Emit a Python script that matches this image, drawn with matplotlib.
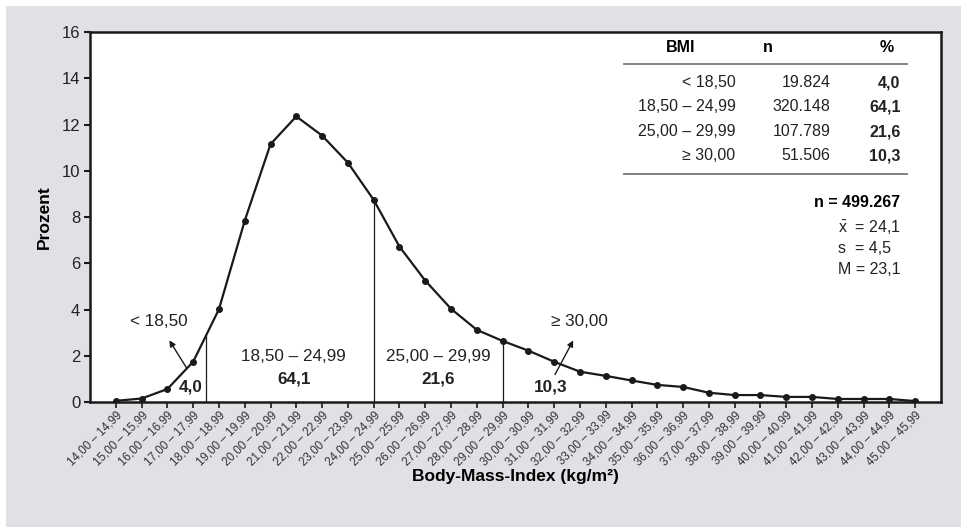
import matplotlib
matplotlib.use("Agg")
import matplotlib.pyplot as plt
from matplotlib.patches import Rectangle
import numpy as np

plt.rcParams['font.family'] = ['Liberation Sans', 'DejaVu Sans']
plt.rcParams['mathtext.fontset'] = 'custom'
plt.rcParams['mathtext.rm'] = 'Liberation Sans'
plt.rcParams['mathtext.it'] = 'Liberation Sans'

# BMI classes (1-unit bins) and share of persons in percent
bmi_low = list(range(14, 46))
categories = [f"{b},00 – {b},99" for b in bmi_low]
percent = [0.05, 0.15, 0.56, 1.74, 4.01, 7.84, 11.15, 12.35, 11.52, 10.35,
           8.74, 6.72, 5.25, 4.03, 3.12, 2.64, 2.22, 1.74, 1.31, 1.13,
           0.93, 0.74, 0.65, 0.40, 0.30, 0.30, 0.22, 0.22, 0.13, 0.13,
           0.13, 0.04]

# WHO groups
group_labels = ["< 18,50", "18,50 – 24,99", "25,00 – 29,99", "≥ 30,00"]
group_n = ["19.824", "320.148", "107.789", "51.506"]
group_pct = [4.0, 64.1, 21.6, 10.3]
cut_points = [18.5, 25.0, 30.0]

n_total = "499.267"
mean_txt, sd_txt, median_txt = "24,1", "4,5", "23,1"

bg = '#e0e1e5'
ink = '#1a1a1a'
txt = '#222222'


def fmt(v):
    return f"{v:.1f}".replace('.', ',')


fig = plt.figure(figsize=(9.61, 5.27), dpi=100, facecolor='white')
fig.patches.append(Rectangle((6 / 961, 0), 1, 1 - 6 / 527, transform=fig.transFigure,
                             facecolor=bg, edgecolor='none', zorder=-10))
ax = fig.add_axes([90 / 961, 125 / 527, 851 / 961, 370 / 527])
ax.set_facecolor('white')

x = np.arange(len(categories))
ax.plot(x, percent, color=ink, lw=1.6, marker='o', ms=4, zorder=3)

# class boundaries: a point at index i stands for BMI i+15
for c in cut_points:
    xc = c - 15
    yc = np.interp(xc, x, percent)
    ax.plot([xc, xc], [0, yc], color=ink, lw=0.9, zorder=2)

ax.set_xlim(-1, 32)
ax.set_ylim(0, 16)
ax.set_yticks(range(0, 17, 2))
ax.set_xticks(x)
ax.set_xticklabels(categories, rotation=45, ha='right', rotation_mode='anchor',
                   fontsize=8.4, color='#333333')
ax.tick_params(axis='y', labelsize=12, length=4, width=1.5, color=ink, labelcolor=txt, pad=3)
ax.tick_params(axis='x', length=4, width=1.2, color=ink, pad=1)
for s in ax.spines.values():
    s.set_linewidth(1.8)
    s.set_color(ink)

ax.set_ylabel("Prozent", fontsize=12.5, fontweight='bold', labelpad=7)
ax.set_xlabel("Body-Mass-Index (kg/m²)", fontsize=12.5, fontweight='bold', labelpad=1)

# group annotations inside the plot
fs = 12.3
ax.text(1.67, 3.46, group_labels[0], ha='center', va='center', fontsize=fs, color=txt)
ax.annotate("", xy=(2.02, 2.77), xytext=(2.79, 1.39),
            arrowprops=dict(arrowstyle='-|>', color=ink, lw=1, mutation_scale=9))
ax.text(2.9, 0.65, fmt(group_pct[0]), ha='center', va='center',
        fontsize=fs, fontweight='bold', color=txt)

ax.text(6.9, 1.95, group_labels[1], ha='center', va='center', fontsize=fs, color=txt)
ax.text(6.9, 1.0, fmt(group_pct[1]), ha='center', va='center',
        fontsize=fs, fontweight='bold', color=txt)

ax.text(12.52, 1.95, group_labels[2], ha='center', va='center', fontsize=fs, color=txt)
ax.text(12.5, 1.0, fmt(group_pct[2]), ha='center', va='center',
        fontsize=fs, fontweight='bold', color=txt)

ax.text(16.86, 0.65, fmt(group_pct[3]), ha='center', va='center',
        fontsize=fs, fontweight='bold', color=txt)
ax.annotate("", xy=(17.79, 2.77), xytext=(16.98, 1.08),
            arrowprops=dict(arrowstyle='-|>', color=ink, lw=1, mutation_scale=9))
ax.text(17.98, 3.46, group_labels[3], ha='center', va='center', fontsize=fs, color=txt)

# summary table top right
tfs = 11.5
ax.text(21.9, 15.32, "BMI", ha='center', va='center', fontsize=tfs, fontweight='bold')
ax.text(25.27, 15.32, "n", ha='center', va='center', fontsize=tfs, fontweight='bold')
ax.text(29.88, 15.32, "%", ha='center', va='center', fontsize=tfs, fontweight='bold')
ax.plot([19.69, 30.7], [14.63, 14.63], color='#777777', lw=1.3)
row_y = [13.81, 12.77, 11.69, 10.65]
for lab, n, p, yy in zip(group_labels, group_n, group_pct, row_y):
    ax.text(24.03, yy, lab, ha='right', va='center', fontsize=tfs, color=txt)
    ax.text(27.71, yy, n, ha='right', va='center', fontsize=tfs, color=txt)
    ax.text(30.43, yy, fmt(p), ha='right', va='center',
            fontsize=tfs, fontweight='bold', color=txt)
ax.plot([19.69, 30.7], [9.87, 9.87], color='#777777', lw=1.3)

ax.text(30.43, 8.61, f"n = {n_total}", ha='right', va='center', fontsize=tfs, fontweight='bold')
ax.text(28.02, 7.53, r"$\bar{x}$  = " + mean_txt, ha='left', va='center', fontsize=tfs, color=txt)
ax.text(28.02, 6.62, "s  = " + sd_txt, ha='left', va='center', fontsize=tfs, color=txt)
ax.text(28.02, 5.71, "M = " + median_txt, ha='left', va='center', fontsize=tfs, color=txt)

fig.savefig("out.png", dpi=100, facecolor=fig.get_facecolor())
